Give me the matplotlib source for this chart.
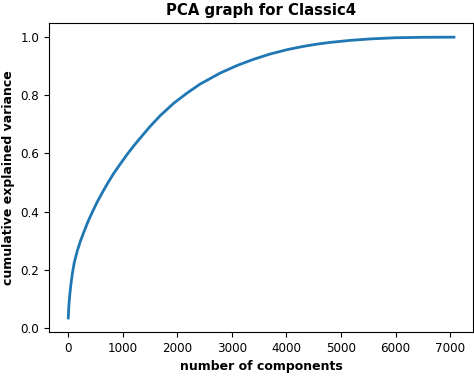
import matplotlib
matplotlib.use("Agg")
import matplotlib.pyplot as plt

# values
n_components = [0, 10, 25, 45, 73, 110, 165, 220, 286, 360, 440, 530, 623, 720,
                835, 950, 1080, 1200, 1310, 1500, 1690, 1935, 2179, 2420, 2789,
                3100, 3399, 3700, 4011, 4300, 4560, 4800, 5170, 5540, 6000,
                6500, 7070]
cum_variance = [0.034, 0.075, 0.110, 0.145, 0.185, 0.225, 0.265, 0.297, 0.330,
                0.365, 0.398, 0.433, 0.465, 0.497, 0.532, 0.563, 0.597, 0.626,
                0.651, 0.693, 0.731, 0.773, 0.808, 0.839, 0.877, 0.903, 0.924,
                0.942, 0.957, 0.968, 0.976, 0.982, 0.989, 0.994, 0.998, 0.9995,
                1.0]

fig = plt.figure(figsize=(4.74, 3.79), dpi=100)
ax = fig.add_axes([0.1034, 0.124, 0.895, 0.815])

ax.plot(n_components, cum_variance, color="#1f77b4", linewidth=2)

ax.set_title("PCA graph for Classic4", fontsize=10.7, fontweight="bold")
ax.set_xlabel("number of components", fontsize=9, fontweight="bold")
ax.set_ylabel("cumulative explained variance", fontsize=9, fontweight="bold")
ax.tick_params(labelsize=8.6)

fig.savefig("out.png", dpi=100)
